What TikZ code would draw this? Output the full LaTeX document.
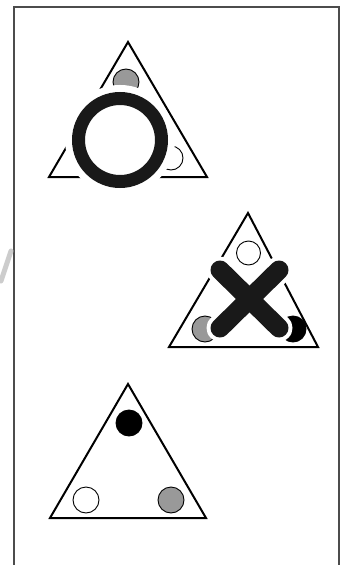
\documentclass[tikz,border=0pt]{standalone}
\usepackage{xcolor}
\usepackage{tikz}

\definecolor{dotgray}{RGB}{153,153,153}

\begin{document}
\begin{tikzpicture}[x=1pt, y=-1pt,
		tri/.style={draw=black, line width=2pt, line join=miter},
		dot/.style={draw=black, line width=0.9pt},
		halo/.style={draw=white, line cap=round},
		signbar/.style={draw=black!90, line cap=round}]
				\useasboundingbox (0,0) rectangle (349,565);
				% frame, open at the bottom
				\draw[black!70, line width=1.5pt] (14,565) -- (14,7) -- (339,7) -- (339,565);
				\draw[black!20, line width=5pt, line cap=round] (1,281) -- (11,251);

				% top: triangle with ring
				\draw[tri] (128,42) -- (207,177) -- (49,177) -- cycle;
				\draw[dot, fill=dotgray] (126,82) circle (13);
				\draw[dot, fill=white] (83,158) circle (12);
				\draw[dot, fill=white] (171,158) circle (12);
				\draw[halo, line width=27pt] (120,140) circle (41.5);
				\draw[signbar, line width=13pt] (120,140) circle (41.5);

				% middle: triangle with cross
				\draw[tri] (248,213) -- (318,347) -- (169,347) -- cycle;
				\draw[dot, fill=white] (248.5,253) circle (12);
				\draw[dot, fill=dotgray] (205,329) circle (13);
				\draw[dot, fill=black] (293,329) circle (13);
				\draw[halo, line width=27pt] (220,270) -- (279,328);
				\draw[halo, line width=27pt] (279,270) -- (220,328);
				\draw[signbar, line width=19pt] (220,270) -- (279,328);
				\draw[signbar, line width=19pt] (279,270) -- (220,328);

				% bottom: plain triangle
				\draw[tri] (128,384) -- (206,518) -- (50,518) -- cycle;
				\draw[dot, fill=black] (129,423) circle (13);
				\draw[dot, fill=white] (86,500) circle (13);
				\draw[dot, fill=dotgray] (171,500) circle (13);
			\end{tikzpicture}
\end{document}
